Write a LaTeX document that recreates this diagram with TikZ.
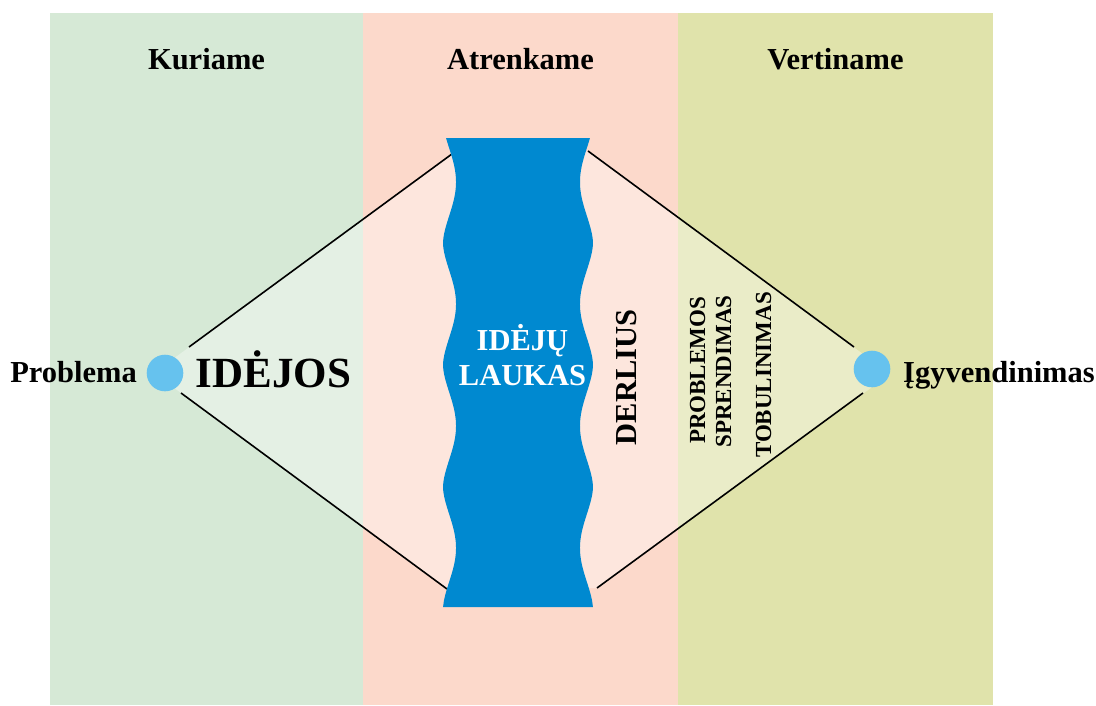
\documentclass[tikz,border=0pt]{standalone}
\usepackage{fontspec}
\setmainfont{Liberation Serif}
\definecolor{kurgreen}{RGB}{214,233,214}
\definecolor{atrpink}{RGB}{252,217,203}
\definecolor{vertyellow}{RGB}{224,227,171}
\definecolor{laukblue}{RGB}{0,137,208}
\definecolor{dotblue}{RGB}{102,194,238}
\tikzset{head/.style={font=\bfseries\fontsize{30.5}{35}\selectfont,anchor=base,inner sep=0pt},
  upword/.style={font=\bfseries\fontsize{23}{27}\selectfont,rotate=90,anchor=base,inner sep=0pt},
  stage/.style={circle,fill=dotblue,minimum size=36.6pt,inner sep=0pt},
  wave/.style={smooth,samples=80,domain=138:607},
  ray/.style={line width=1.6pt}}

\begin{document}
\begin{tikzpicture}[x=1pt,y=-1pt]
  \useasboundingbox (0,0) rectangle (1096,705);
  % three columns
  \fill[kurgreen] (50,13) rectangle (363,705);
  \fill[atrpink] (363,13) rectangle (678,705);
  \fill[vertyellow] (678,13) rectangle (993,705);
  \node[head] (kur) at (206.5,69) {Kuriame};
  \node[head] (atr) at (520.5,69) {Atrenkame};
  \node[head] (vert) at (835.5,69) {Vertiname};
  % the lens
  \coordinate (lapex) at (154,373);
  \coordinate (rapex) at (890,374);
  \coordinate (ul1) at (189,347);
  \coordinate (ul2) at (456,151);
  \coordinate (ll1) at (181,393);
  \coordinate (ll2) at (447,589);
  \coordinate (ur1) at (588,151);
  \coordinate (ur2) at (854,347);
  \coordinate (lr1) at (597,588);
  \coordinate (lr2) at (863,393);
  \fill[white,opacity=0.35] (lapex) -- (ul2) -- (ur1) -- (rapex) -- (lr1) -- (ll2) -- cycle;
  \draw[ray] (ul1) -- (ul2);
  \draw[ray] (ll1) -- (ll2);
  \draw[ray] (ur1) -- (ur2);
  \draw[ray] (lr1) -- (lr2);
  \fill[laukblue] plot[wave] ({443+13*(abs(sin(1.4754*(\x-243)))+0.001)^1.7},\x)
    -- plot[wave,domain=607:138] ({593-13*(abs(sin(1.4754*(\x-243)))+0.001)^1.7},\x) -- cycle;
  \node[head,white] (idj) at (522.5,350) {IDĖJŲ};
  \node[head,white] (lauk) at (522.5,385) {LAUKAS};
  \node[stage] (prob) at (165,373) {};
  \node[stage] (igyv) at (872,369) {};
  \node[head] (probl) at (73.5,382) {Problema};
  \node[head,font=\bfseries\fontsize{43}{48}\selectfont] (idejos) at (273.5,387) {IDĖJOS};
  \node[head] (igyvl) at (999,382) {Įgyvendinimas};
  \node[upword,font=\bfseries\fontsize{30.5}{35}\selectfont] (derl) at (636,377.5) {DERLIUS};
  \node[upword] (probm) at (705,370.5) {PROBLEMOS};
  \node[upword] (spr) at (731,371.5) {SPRENDIMAS};
  \node[upword] (tob) at (771,375) {TOBULINIMAS};
\end{tikzpicture}
\end{document}
